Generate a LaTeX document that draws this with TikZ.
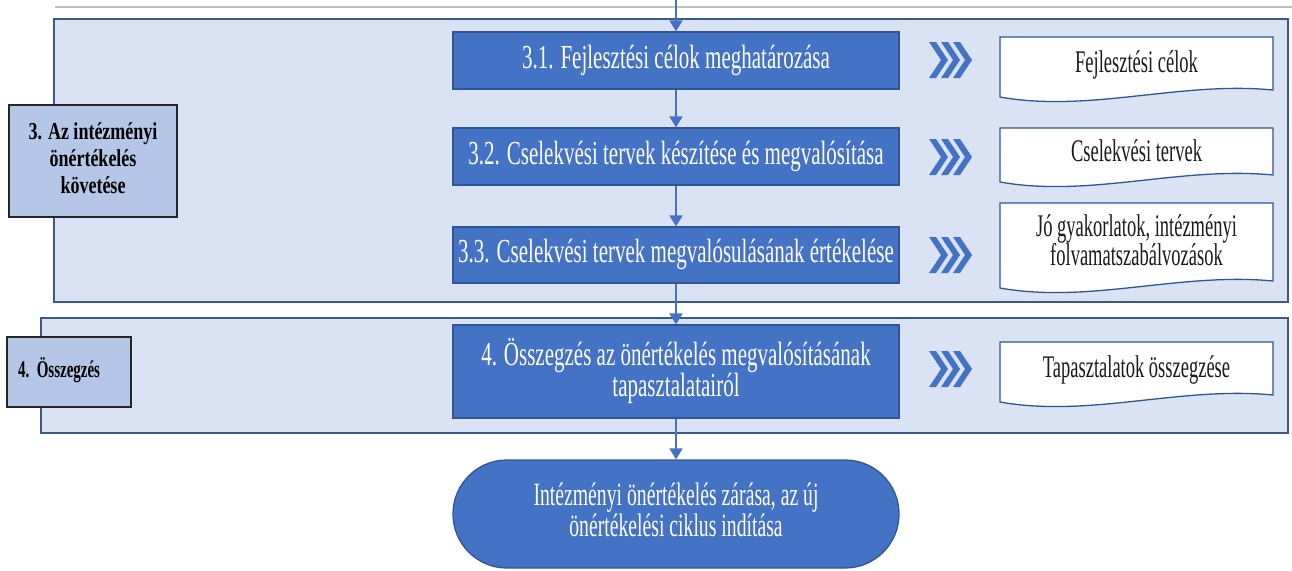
\documentclass[tikz,border=0pt]{standalone}
\usepackage{fontspec}
\setmainfont{Liberation Serif}
\usepackage{graphicx}
\usetikzlibrary{arrows.meta,calc}
\definecolor{boxblue}{HTML}{4472C4}
\definecolor{boxedge}{HTML}{2F5597}
\definecolor{panelfill}{HTML}{DAE3F3}
\definecolor{paneledge}{HTML}{3A5A8C}
\definecolor{labelfill}{HTML}{B4C7E7}
\definecolor{docedge}{HTML}{2F5597}
\definecolor{doctext}{HTML}{1A1A1A}
\newcommand{\vs}[2][1.6]{\scalebox{1}[#1]{\begin{tabular}{@{}c@{}}#2\end{tabular}}}
\newcommand{\chevs}[2]{%
  \foreach \i in {0,12,24}{%
    \fill[boxblue] ({#1+\i},{#2-18}) -- ++(7,0) -- ++(12,18) -- ++(-12,18) -- ++(-7,0) -- ++(12,-18) -- cycle;}}
\newcommand{\docshape}[2]{%
  \draw[docbox] (1000,#1) -- (1273,#1) -- (1273,{#2-7}) .. controls (1180,{#2-16}) and (1090,{#2+16}) .. (1000,#2) -- cycle;}
\begin{document}
\begin{tikzpicture}[x=1pt,y=-1pt,
  panel/.style={fill=panelfill,draw=paneledge,line width=1.4pt},
  lab/.style={fill=labelfill,draw=black!85,line width=1.8pt,inner sep=0pt},
  stepbox/.style={fill=boxblue,draw=boxedge,line width=1.3pt,text=white,inner sep=0pt,
    font=\fontsize{21}{17}\selectfont},
  docbox/.style={fill=white,draw=docedge,line width=1.3pt},
  doctxt/.style={text=doctext,inner sep=0pt,font=\fontsize{18.5}{12.5}\selectfont},
  flow/.style={draw=boxblue,line width=2pt,-{Triangle[width=13pt,length=11pt]}},
]
\useasboundingbox (0,0) rectangle (1292,570);

% top line
\draw[black!25,line width=1.5pt] (55,7) -- (1292,7);

% panels
\draw[panel] (54,19) rectangle (1288,302);
\draw[panel] (41,318) rectangle (1288,433);

% section labels
\node[lab,minimum width=168,minimum height=112,font=\fontsize{18}{20}\selectfont\bfseries] (l3) at (93,161)
  {\vs[1.35]{3. Az intézményi\\önértékelés\\követése}};
\node[lab,minimum height=70,text width=102,inner xsep=11,align=left,font=\fontsize{15}{17}\selectfont\bfseries] (l4) at (69,372)
  {\vs[1.6]{4. Összegzés}};

% step boxes
\node[stepbox,minimum width=446,minimum height=57] (s31) at (676,60.5) {\vs{3.1. Fejlesztési célok meghatározása}};
\node[stepbox,minimum width=446,minimum height=57] (s32) at (676,156.5) {\vs{3.2. Cselekvési tervek készítése és megvalósítása}};
\node[stepbox,minimum width=446,minimum height=56] (s33) at (676,255) {\vs{3.3. Cselekvési tervek megvalósulásának értékelése}};
\node[stepbox,minimum width=446,minimum height=93] (s4) at (676,371.5) {\vs{4. Összegzés az önértékelés megvalósításának\\tapasztalatairól}};
\node[stepbox,minimum width=446,minimum height=108,rounded corners=54pt,font=\fontsize{19.7}{18}\selectfont] (end) at (676,514)
  {\vs[1.65]{Intézményi önértékelés zárása, az új\\önértékelési ciklus indítása}};

% connectors
\coordinate (top) at (676,0);
\draw[flow] (top) -- (s31);
\draw[flow] (s31) -- (s32);
\draw[flow] (s32) -- (s33);
\draw[flow] (s33) -- (s4);
\draw[flow] (s4) -- (end);

% chevrons
\chevs{929}{60}
\chevs{929}{157}
\chevs{929}{255}
\chevs{929}{369}

% documents
\docshape{37}{97}
\node[doctxt] (d1) at (1136.5,65) {\vs[1.7]{Fejlesztési célok}};
\docshape{128}{182}
\node[doctxt] (d2) at (1136.5,154) {\vs[1.7]{Cselekvési tervek}};
\docshape{203}{288}
\node[doctxt] (d3) at (1136.5,243) {\vs[1.7]{Jó gyakorlatok, intézményi\\folvamatszabálvozások}};
\docshape{342}{402}
\node[doctxt] (d4) at (1136.5,370) {\vs[1.7]{Tapasztalatok összegzése}};
\end{tikzpicture}
\end{document}
